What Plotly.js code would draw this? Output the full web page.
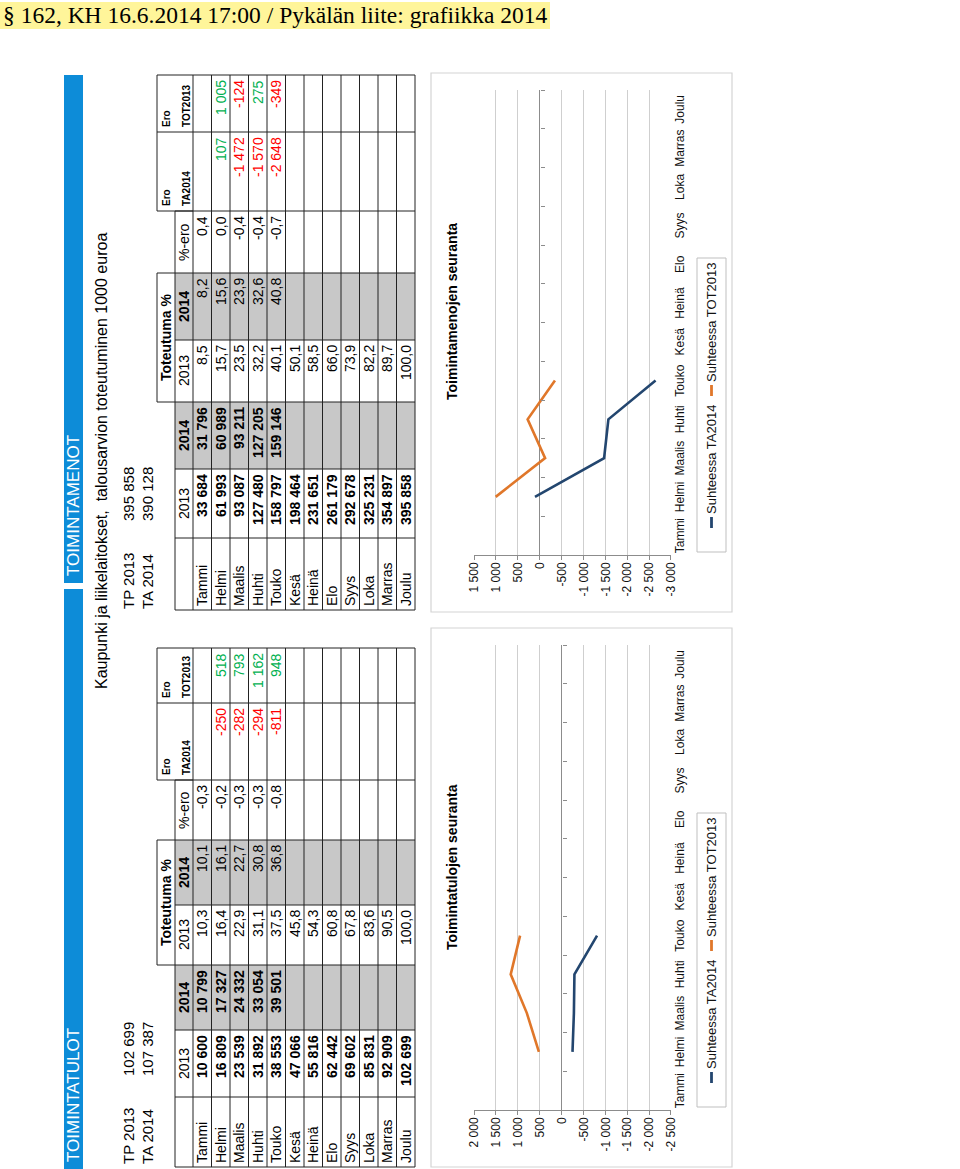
<!DOCTYPE html>
<html><head><meta charset="utf-8">
<script src="https://cdn.plot.ly/plotly-3.0.1.min.js"></script>
<style>
html,body{margin:0;padding:0;background:#fff;}
body{width:960px;height:1169px;overflow:hidden;position:relative;}
#hdr{position:absolute;z-index:5;left:0;top:2px;height:27px;line-height:27px;padding:0 3px 0 3px;background:#FFF59A;font-family:"Liberation Serif",serif;font-size:23.5px;color:#000;white-space:nowrap;}
#rot{position:absolute;z-index:1;left:0;top:0;width:1169px;height:905px;transform-origin:0 0;transform:translate(55px,1169px) rotate(-90deg);}
</style></head>
<body>
<div id="hdr">§ 162, KH 16.6.2014 17:00 / Pykälän liite: grafiikka 2014</div>
<div id="rot"></div>
<script>
// ---------------- DATA ----------------
const months = ["Tammi","Helmi","Maalis","Huhti","Touko","Kesä","Heinä","Elo","Syys","Loka","Marras","Joulu"];
const headerRow2 = ["2013","2014","2013","2014","%-ero"];

const tulotTP2013 = 102699, tulotTA2014 = 107387;
const tulot2013 = [10600,16809,23539,31892,38553,47066,55816,62442,69602,85831,92909,102699];
const tulot2014 = [10799,17327,24332,33054,39501,null,null,null,null,null,null,null];
const tulotPct2013 = [10.3,16.4,22.9,31.1,37.5,45.8,54.3,60.8,67.8,83.6,90.5,100.0];
const tulotPct2014 = [10.1,16.1,22.7,30.8,36.8,null,null,null,null,null,null,null];
const tulotPctEro = [-0.3,-0.2,-0.3,-0.3,-0.8,null,null,null,null,null,null,null];
const tulotEroTA = [null,-250,-282,-294,-811,null,null,null,null,null,null,null];
const tulotEroTOT = [null,518,793,1162,948,null,null,null,null,null,null,null];

const menotTP2013 = 395858, menotTA2014 = 390128;
const menot2013 = [33684,61993,93087,127480,158797,198464,231651,261179,292678,325231,354897,395858];
const menot2014 = [31796,60989,93211,127205,159146,null,null,null,null,null,null,null];
const menotPct2013 = [8.5,15.7,23.5,32.2,40.1,50.1,58.5,66.0,73.9,82.2,89.7,100.0];
const menotPct2014 = [8.2,15.6,23.9,32.6,40.8,null,null,null,null,null,null,null];
const menotPctEro = [0.4,0.0,-0.4,-0.4,-0.7,null,null,null,null,null,null,null];
const menotEroTA = [null,107,-1472,-1570,-2648,null,null,null,null,null,null,null];
const menotEroTOT = [null,1005,-124,275,-349,null,null,null,null,null,null,null];

const tulotTicks = [2000,1500,1000,500,0,-500,-1000,-1500,-2000,-2500];
const menotTicks = [1500,1000,500,0,-500,-1000,-1500,-2000,-2500,-3000];
const seriesNames = ["Suhteessa TA2014","Suhteessa TOT2013"];

// ---------------- HELPERS ----------------
const W = 1169, H = 905;
const PX = v => v / W;
const PY = v => 1 - v / H;
const SANS = "Liberation Sans, Arial, sans-serif";
const INK = "#000000";
const BLUE = "#23466F", ORANGE = "#E0772A";
function fmtInt(n){ if(n===null||n===undefined) return ""; const s = Math.abs(Math.round(n)).toString().replace(/\B(?=(\d{3})+(?!\d))/g," "); return (n<0?"-":"")+s; }
function fmtDec(n){ if(n===null||n===undefined) return ""; return (n<0?"-":"")+Math.abs(n).toFixed(1).replace(".",","); }

const shapes = [], annotations = [];
function rect(x0,x1,y0,y1,fill,lineColor,lw){
  shapes.push({type:"rect",xref:"paper",yref:"paper",x0:PX(x0),x1:PX(x1),y0:PY(y0),y1:PY(y1),
    fillcolor:fill||"rgba(0,0,0,0)",line:{color:lineColor||"rgba(0,0,0,0)",width:lw||0},layer:"below"});
}
function hline(x0,x1,y,c,w,layer){ shapes.push({type:"line",xref:"paper",yref:"paper",x0:PX(x0),x1:PX(x1),y0:PY(y),y1:PY(y),line:{color:c||"#222",width:w||1},layer:layer||"above"}); }
function vline(x,y0,y1,c,w){ shapes.push({type:"line",xref:"paper",yref:"paper",x0:PX(x),x1:PX(x),y0:PY(y0),y1:PY(y1),line:{color:c||"#222",width:w||1},layer:"above"}); }
function text(x,y,t,opts){
  opts = opts||{};
  annotations.push({xref:"paper",yref:"paper",x:PX(x),y:PY(y),text:t,showarrow:false,
    xanchor:opts.xa||"left",yanchor:opts.ya||"middle",borderpad:0,
    font:{family:opts.family||SANS,size:opts.size||14,color:opts.color||INK}});
}

// ---------------- SECTION DRAWING ----------------
function section(cfg){
  const c = cfg.cols;
  rect(cfg.bar[0],cfg.bar[1],9,28,"#0D8CD8");
  text(cfg.textX,18.5,cfg.title,{size:17,color:"#ffffff"});
  text(cfg.tpX,74,"TP 2013",{size:15});
  text(cfg.tpX+88,74,fmtInt(cfg.tp),{size:15});
  text(cfg.tpX,92,"TA 2014",{size:15});
  text(cfg.tpX+88,92,fmtInt(cfg.ta),{size:15});
  const r0 = 102, r1 = 120, r2 = 138, rh = 18.5, nR = months.length;
  const rEnd = r2 + rh*nR;
  rect(c[2],c[3],r1,rEnd,"#C8C8C8");
  rect(c[4],c[5],r1,rEnd,"#C8C8C8");
  for(let k=0;k<=nR;k++) hline(c[0],c[8],r2+k*rh);
  hline(c[0],c[6],r1);
  hline(c[3],c[5],r0);
  hline(c[6],c[8],r0);
  for(let i=0;i<=8;i++) vline(c[i],r2,rEnd);
  for(let i=0;i<=6;i++) vline(c[i],r1,r2);
  vline(c[3],r0,r1); vline(c[5],r0,r1);
  for(let i=6;i<=8;i++) vline(c[i],r0,r2);
  text((c[3]+c[5])/2,r0+9,"<b>Toteutuma %</b>",{xa:"center",size:14});
  headerRow2.forEach((h,i)=>{
    const bold = (i===1||i===3);
    text((c[i+1]+c[i+2])/2,r1+9,bold?"<b>"+h+"</b>":h,{xa:"center",size:14});
  });
  text(c[6]+4,r0+10,"<b>Ero</b>",{size:10});
  text(c[6]+4,r1+11,"<b>TA2014</b>",{size:10});
  text(c[7]+4,r0+10,"<b>Ero</b>",{size:10});
  text(c[7]+4,r1+11,"<b>TOT2013</b>",{size:10});
  months.forEach((m,k)=>{
    const yc = r2 + rh*k + rh/2;
    text(c[0]+3,yc,m,{size:14});
    const cells = [
      ["<b>"+fmtInt(cfg.v2013[k])+"</b>",INK],
      [cfg.v2014[k]===null?"":"<b>"+fmtInt(cfg.v2014[k])+"</b>",INK],
      [fmtDec(cfg.p2013[k]),INK],
      [fmtDec(cfg.p2014[k]),INK],
      [fmtDec(cfg.pEro[k]),INK],
      [fmtInt(cfg.eTA[k]), cfg.eTA[k]<0?"#FF0000":"#00B050"],
      [fmtInt(cfg.eTOT[k]), cfg.eTOT[k]<0?"#FF0000":"#00B050"]
    ];
    cells.forEach((cell,i)=>{ if(cell[0]!=="") text(c[i+2]-4,yc,cell[0],{xa:"right",size:14,color:cell[1]}); });
  });
  rect(cfg.frame[0],cfg.frame[1],376,677,"#ffffff","#D4D4D4",1.2);
  text(cfg.frame[0]+cfg.titleX,397,"<b>"+cfg.chartTitle+"</b>",{xa:"center",size:14});
  const L0 = cfg.frame[0]+60, ly = 656.5;
  rect(L0,L0+294,642,671,"#ffffff","#BFBFBF",1);
  const lc = [BLUE,ORANGE], lx = [L0+24,L0+156];
  seriesNames.forEach((nm,i)=>{
    hline(lx[i],lx[i]+11,ly,lc[i],2.8);
    text(lx[i]+13,ly,nm,{size:13,color:"#111"});
  });
}

section({title:"TOIMINTATULOT",bar:[0,580],textX:6,tpX:4,tp:tulotTP2013,ta:tulotTA2014,
  cols:[2,72,139,204,264,329,389,466,521],
  v2013:tulot2013,v2014:tulot2014,p2013:tulotPct2013,p2014:tulotPct2014,pEro:tulotPctEro,eTA:tulotEroTA,eTOT:tulotEroTOT,
  frame:[2,541],titleX:300,chartTitle:"Toimintatulojen seuranta"});
section({title:"TOIMINTAMENOT",bar:[586,1094],textX:592,tpX:559,tp:menotTP2013,ta:menotTA2014,
  cols:[559,631,700,767,829,896,958,1037,1094],
  v2013:menot2013,v2014:menot2014,p2013:menotPct2013,p2014:menotPct2014,pEro:menotPctEro,eTA:menotEroTA,eTOT:menotEroTOT,
  frame:[557,1096],titleX:300,chartTitle:"Toimintamenojen seuranta"});

text(479,46,"Kaupunki ja liikelaitokset,  talousarvion toteutuminen 1000 euroa",{size:16});

// ---------------- CHARTS ----------------
const plotY = [PY(616),PY(419)];
const c1x = [PX(59),PX(524)], c2x = [PX(614),PX(1079)];
function zeroPos(ticks){ const lo=Math.min(...ticks), hi=Math.max(...ticks); return plotY[0] + (0-lo)/(hi-lo)*(plotY[1]-plotY[0]); }

const traces = [
  {x:months,y:tulotEroTA,name:seriesNames[0],type:"scatter",mode:"lines",line:{color:BLUE,width:2.6},xaxis:"x",yaxis:"y",hoverinfo:"skip",showlegend:false},
  {x:months,y:tulotEroTOT,name:seriesNames[1],type:"scatter",mode:"lines",line:{color:ORANGE,width:2.6},xaxis:"x",yaxis:"y",hoverinfo:"skip",showlegend:false},
  {x:months,y:menotEroTA,name:seriesNames[0],type:"scatter",mode:"lines",line:{color:BLUE,width:2.6},xaxis:"x2",yaxis:"y2",hoverinfo:"skip",showlegend:false},
  {x:months,y:menotEroTOT,name:seriesNames[1],type:"scatter",mode:"lines",line:{color:ORANGE,width:2.6},xaxis:"x2",yaxis:"y2",hoverinfo:"skip",showlegend:false},
  {x:[0],y:[null],xaxis:"x3",yaxis:"y",showlegend:false,hoverinfo:"skip",type:"scatter",mode:"lines"},
  {x:[0],y:[null],xaxis:"x4",yaxis:"y2",showlegend:false,hoverinfo:"skip",type:"scatter",mode:"lines"}
];
const tickFont = {family:SANS,size:12,color:"#111"};
function valAxis(ticks,xa){
  const lo=Math.min(...ticks), hi=Math.max(...ticks);
  return {domain:plotY,anchor:xa,range:[lo-0.5,hi+0.5],tickvals:ticks,ticktext:ticks.map(fmtInt),
    showgrid:true,gridcolor:"#CFCFCF",gridwidth:1,zeroline:true,zerolinecolor:"#8C8C8C",zerolinewidth:1,
    showline:true,linecolor:"#8C8C8C",linewidth:1,ticks:"outside",ticklen:4,tickcolor:"#8C8C8C",tickfont:tickFont,fixedrange:true};
}
function catAxis(dom,ya){
  return {domain:dom,anchor:ya,type:"category",range:[-0.5,11.5],showgrid:false,zeroline:false,showline:false,ticks:"",tickfont:{family:SANS,size:12,color:"#111"},tickangle:0,fixedrange:true};
}
function zeroTickAxis(dom,ov,ticks){
  return {domain:dom,overlaying:ov,anchor:"free",position:zeroPos(ticks),side:"bottom",range:[-0.5,11.5],
    tickvals:[-0.5,0.5,1.5,2.5,3.5,4.5,5.5,6.5,7.5,8.5,9.5,10.5,11.5],showticklabels:false,ticks:"outside",ticklen:4,tickcolor:"#8C8C8C",
    showgrid:false,zeroline:false,showline:false,fixedrange:true};
}
const layout = {
  width:W,height:H,margin:{l:0,r:0,t:0,b:0},paper_bgcolor:"rgba(255,255,255,0)",plot_bgcolor:"rgba(0,0,0,0)",
  showlegend:false,
  xaxis:catAxis(c1x,"y"), yaxis:valAxis(tulotTicks,"x"),
  xaxis2:catAxis(c2x,"y2"), yaxis2:valAxis(menotTicks,"x2"),
  xaxis3:zeroTickAxis(c1x,"x",tulotTicks), xaxis4:zeroTickAxis(c2x,"x2",menotTicks),
  shapes:shapes, annotations:annotations
};
Plotly.newPlot("rot",traces,layout,{staticPlot:true,displayModeBar:false});
</script>
</body></html>
